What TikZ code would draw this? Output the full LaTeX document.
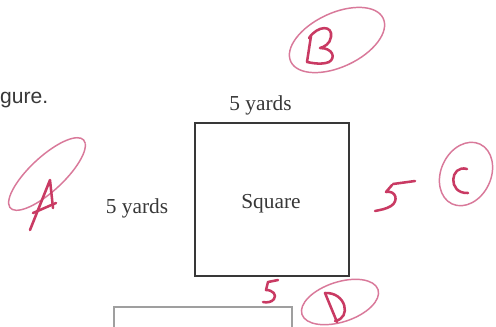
\documentclass[tikz,border=0pt]{standalone}
\usepackage{fontspec}
\setmainfont{Liberation Serif}
\newfontfamily\arialfont{Liberation Sans}
\definecolor{ink}{HTML}{383838}
\definecolor{pen}{HTML}{C93A63}
\definecolor{penlight}{HTML}{D9799A}
\tikzset{
  label/.style={font=\fontsize{16}{18}\selectfont, text=ink, inner sep=0pt},
  penletter/.style={draw=pen, line width=1.9pt, line cap=round, line join=round},
  penring/.style={draw=penlight, line width=1.1pt, line cap=round},
}
\begin{document}
\begin{tikzpicture}[x=0.75pt,y=-0.75pt]
\useasboundingbox[fill=white] (0,0) rectangle (496,326);

% printed content
\node[anchor=base east, inner sep=0pt, text=ink, font=\arialfont\fontsize{15.8}{18}\selectfont] (gure) at (48.5,103) {gure.};
\node[draw=ink, line width=1.6pt, minimum width=115.5pt, minimum height=115pt, inner sep=0pt] (sq) at (272,199.75) {};
\node[label, anchor=base] (sqtext) at (271,208) {Square};
\node[label, anchor=base] (top) at (260.5,110.5) {5 yards};
\node[label, anchor=base] (left) at (137,213) {5 yards};
\draw[draw=gray!75, line width=0.9pt] (114,335) -- (114,307) -- (292,307) -- (292,335);

% handwritten marks: A
\begin{scope}[shift={(47,174)}, rotate=43]
  \draw[penring] (15:50 and 17) arc[start angle=15, end angle=372, x radius=50, y radius=17];
\end{scope}
\draw[penletter] (30,230) -- (50,180) -- (53,208);
\draw[penletter] (33,213) -- (56,203);

% B
\draw[penring, rotate around={25:(337,40)}] (337,40) ellipse [x radius=51, y radius=27];
\draw[penletter] (311,36) -- (307,62);
\draw[penletter] (309,38) .. controls (318,25) and (333,25) .. (331,37)
  .. controls (330,44) and (324,47) .. (320,48)
  .. controls (333,48) and (336,58) .. (329,62)
  .. controls (322,65) and (312,63) .. (307,62);

% C
\draw[penring, rotate around={65:(466,174)}] (466,174) ellipse [x radius=33, y radius=25];
\draw[penletter] (467,169) .. controls (450,164) and (447,194) .. (468,193);
\draw[penletter] (393,184) -- (415,181);
\draw[penletter] (392,185) -- (386,192) .. controls (396,190) and (399,201) .. (391,206)
  .. controls (386,209) and (380,210) .. (375,211);

% D
\draw[penring, rotate around={18:(340,302)}] (340,302) ellipse [x radius=40, y radius=20];
\draw[penletter] (325,293) -- (337,322);
\draw[penletter] (325,293) .. controls (346,292) and (352,318) .. (335,321);
\draw[penletter] (278,280) -- (268,282) -- (266,290) .. controls (273,290) and (277,295) .. (274,299)
  .. controls (272,302) and (267,303) .. (263,302);
\end{tikzpicture}
\end{document}
